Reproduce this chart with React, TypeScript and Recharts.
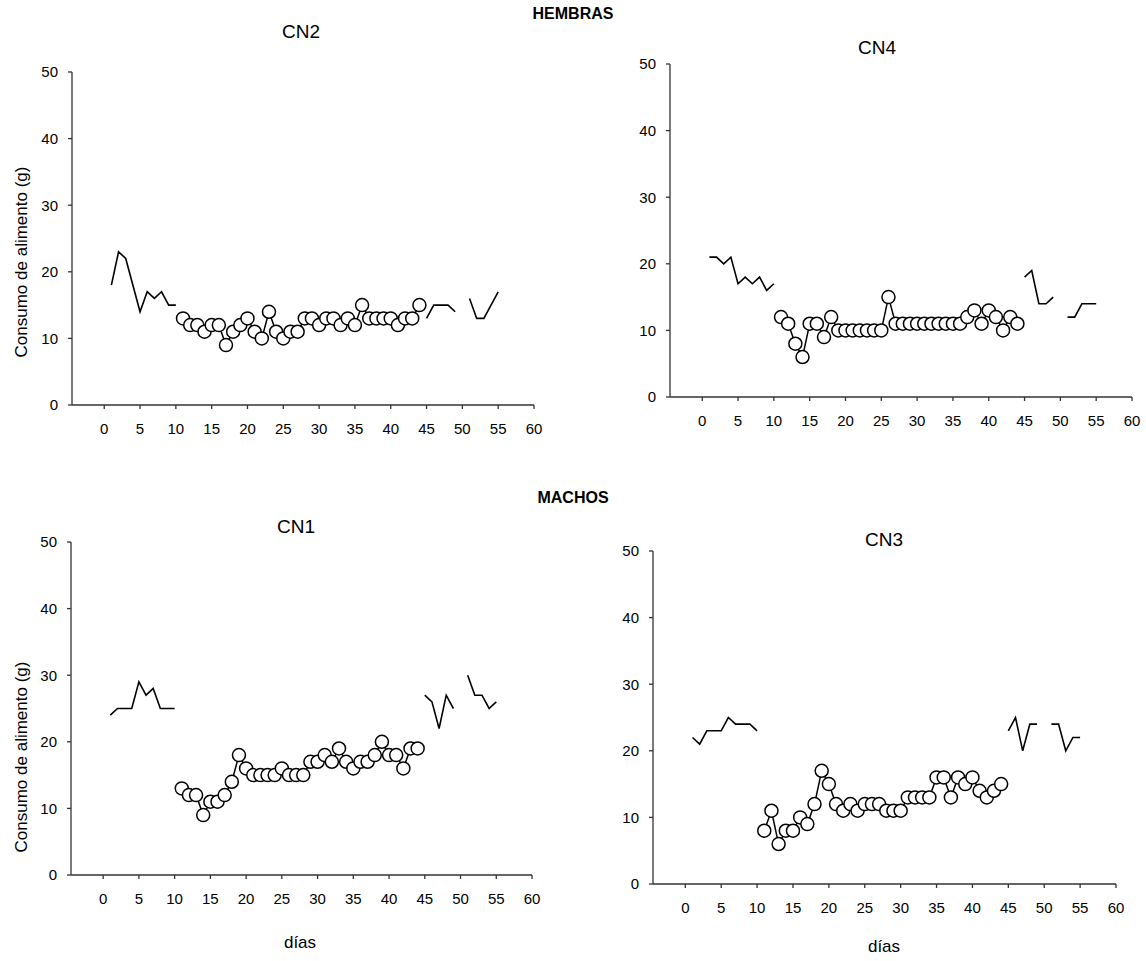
import React from 'react';
import { Line, LineChart, XAxis, YAxis } from 'recharts';

const W = 1146;
const H = 961;
const FONT = 'Arial, "Liberation Sans", sans-serif';
const EJE_Y_ANCHO = 40;
const EJE_X_ALTO = 30;

const TICKS_X = [0, 5, 10, 15, 20, 25, 30, 35, 40, 45, 50, 55, 60];
const TICKS_Y = [0, 10, 20, 30, 40, 50];

// días con registro diario (círculos)
const DIAS_CIRC = [
  11, 12, 13, 14, 15, 16, 17, 18, 19, 20, 21, 22, 23, 24, 25, 26, 27,
  28, 29, 30, 31, 32, 33, 34, 35, 36, 37, 38, 39, 40, 41, 42, 43, 44,
];

// HEMBRAS - CN2
const CN2_INICIO: [number, number][] = [
  [1, 18], [2, 23], [3, 22], [5, 14], [6, 17], [7, 16], [8, 17], [9, 15], [10, 15],
];
const CN2_CIRC = [
  13, 12, 12, 11, 12, 12, 9, 11, 12, 13, 11, 10, 14, 11, 10, 11, 11,
  13, 13, 12, 13, 13, 12, 13, 12, 15, 13, 13, 13, 13, 12, 13, 13, 15,
];
const CN2_MEDIO: [number, number][] = [[45, 13], [46, 15], [47, 15], [48, 15], [49, 14]];
const CN2_FINAL: [number, number][] = [[51, 16], [52, 13], [53, 13], [55, 17]];

// HEMBRAS - CN4
const CN4_INICIO: [number, number][] = [
  [1, 21], [2, 21], [3, 20], [4, 21], [5, 17], [6, 18], [7, 17], [8, 18], [9, 16], [10, 17],
];
const CN4_CIRC = [
  12, 11, 8, 6, 11, 11, 9, 12, 10, 10, 10, 10, 10, 10, 10, 15, 11,
  11, 11, 11, 11, 11, 11, 11, 11, 11, 12, 13, 11, 13, 12, 10, 12, 11,
];
const CN4_MEDIO: [number, number][] = [[45, 18], [46, 19], [47, 14], [48, 14], [49, 15]];
const CN4_FINAL: [number, number][] = [[51, 12], [52, 12], [53, 14], [54, 14], [55, 14]];

// MACHOS - CN1
const CN1_INICIO: [number, number][] = [
  [1, 24], [2, 25], [3, 25], [4, 25], [5, 29], [6, 27], [7, 28], [8, 25], [9, 25], [10, 25],
];
const CN1_CIRC = [
  13, 12, 12, 9, 11, 11, 12, 14, 18, 16, 15, 15, 15, 15, 16, 15, 15,
  15, 17, 17, 18, 17, 19, 17, 16, 17, 17, 18, 20, 18, 18, 16, 19, 19,
];
const CN1_MEDIO: [number, number][] = [[45, 27], [46, 26], [47, 22], [48, 27], [49, 25]];
const CN1_FINAL: [number, number][] = [[51, 30], [52, 27], [53, 27], [54, 25], [55, 26]];

// MACHOS - CN3
const CN3_INICIO: [number, number][] = [
  [1, 22], [2, 21], [3, 23], [4, 23], [5, 23], [6, 25], [7, 24], [8, 24], [9, 24], [10, 23],
];
const CN3_CIRC = [
  8, 11, 6, 8, 8, 10, 9, 12, 17, 15, 12, 11, 12, 11, 12, 12, 12,
  11, 11, 11, 13, 13, 13, 13, 16, 16, 13, 16, 15, 16, 14, 13, 14, 15,
];
const CN3_MEDIO: [number, number][] = [[45, 23], [46, 25], [47, 20], [48, 24], [49, 24]];
const CN3_FINAL: [number, number][] = [[51, 24], [52, 24], [53, 20], [54, 22], [55, 22]];

type Punto = { dia: number; g: number };
type Caja = { left: number; top: number; right: number; bottom: number };

const aPuntos = (pares: [number, number][]): Punto[] =>
  pares.map(([dia, g]) => ({ dia, g }));
const circulos = (valores: number[]): Punto[] =>
  valores.map((g, i) => ({ dia: DIAS_CIRC[i], g }));

const tickStyle = { fill: '#000', fontSize: 15, fontFamily: FONT };

function Panel({
  caja,
  tramos,
  circ,
}: {
  caja: Caja;
  tramos: [number, number][][];
  circ: number[];
}) {
  // el área de trazado queda exactamente en la caja dada (coordenadas de página)
  const margin = {
    left: caja.left - EJE_Y_ANCHO,
    top: caja.top,
    right: W - caja.right,
    bottom: H - caja.bottom - EJE_X_ALTO,
  };
  return (
    <div style={{ position: 'absolute', left: 0, top: 0 }}>
      <LineChart width={W} height={H} margin={margin}>
        <XAxis
          type="number"
          dataKey="dia"
          domain={[-4.5, 60]}
          ticks={TICKS_X}
          interval={0}
          allowDataOverflow
          height={EJE_X_ALTO}
          tickSize={4}
          tickMargin={14}
          stroke="#333"
          strokeWidth={1.3}
          tick={tickStyle}
        />
        <YAxis
          type="number"
          dataKey="g"
          domain={[0, 50]}
          ticks={TICKS_Y}
          interval={0}
          width={EJE_Y_ANCHO}
          tickSize={4}
          tickMargin={10}
          stroke="#333"
          strokeWidth={1.3}
          tick={tickStyle}
        />
        {tramos.map((t, i) => (
          <Line
            key={i}
            data={aPuntos(t)}
            dataKey="g"
            type="linear"
            stroke="#000"
            strokeWidth={1.6}
            dot={false}
            isAnimationActive={false}
          />
        ))}
        <Line
          data={circulos(circ)}
          dataKey="g"
          type="linear"
          stroke="#000"
          strokeWidth={1.5}
          dot={{ r: 6.5, fill: '#fff', stroke: '#000', strokeWidth: 1.5 }}
          isAnimationActive={false}
        />
      </LineChart>
    </div>
  );
}

function Texto({
  x,
  y,
  children,
  size,
  bold,
  rotar,
}: {
  x: number;
  y: number;
  children: React.ReactNode;
  size: number;
  bold?: boolean;
  rotar?: boolean;
}) {
  return (
    <div
      style={{
        position: 'absolute',
        left: x,
        top: y,
        transform: `translate(-50%, -50%)${rotar ? ' rotate(-90deg)' : ''}`,
        whiteSpace: 'nowrap',
        fontSize: size,
        fontWeight: bold ? 700 : 400,
        fontFamily: FONT,
        color: '#000',
        lineHeight: 1,
      }}
    >
      {children}
    </div>
  );
}

export default function App() {
  return (
    <div
      style={{
        position: 'absolute',
        left: 0,
        top: 0,
        width: W,
        height: H,
        background: '#fff',
        overflow: 'hidden',
        fontFamily: FONT,
      }}
    >
      <Panel
        caja={{ left: 72, top: 72, right: 534, bottom: 405 }}
        tramos={[CN2_INICIO, CN2_MEDIO, CN2_FINAL]}
        circ={CN2_CIRC}
      />
      <Panel
        caja={{ left: 670, top: 64, right: 1132, bottom: 397 }}
        tramos={[CN4_INICIO, CN4_MEDIO, CN4_FINAL]}
        circ={CN4_CIRC}
      />
      <Panel
        caja={{ left: 71, top: 542, right: 532, bottom: 875 }}
        tramos={[CN1_INICIO, CN1_MEDIO, CN1_FINAL]}
        circ={CN1_CIRC}
      />
      <Panel
        caja={{ left: 653, top: 551, right: 1116, bottom: 884 }}
        tramos={[CN3_INICIO, CN3_MEDIO, CN3_FINAL]}
        circ={CN3_CIRC}
      />

      <Texto x={573} y={14} size={16} bold>HEMBRAS</Texto>
      <Texto x={573} y={498} size={16} bold>MACHOS</Texto>
      <Texto x={301} y={31} size={19}>CN2</Texto>
      <Texto x={877} y={47} size={19}>CN4</Texto>
      <Texto x={296} y={526} size={19}>CN1</Texto>
      <Texto x={884} y={539} size={19}>CN3</Texto>
      <Texto x={21} y={262} size={17} rotar>Consumo de alimento (g)</Texto>
      <Texto x={21} y={757} size={17} rotar>Consumo de alimento (g)</Texto>
      <Texto x={300} y={942} size={17}>días</Texto>
      <Texto x={884} y={946} size={17}>días</Texto>
    </div>
  );
}
